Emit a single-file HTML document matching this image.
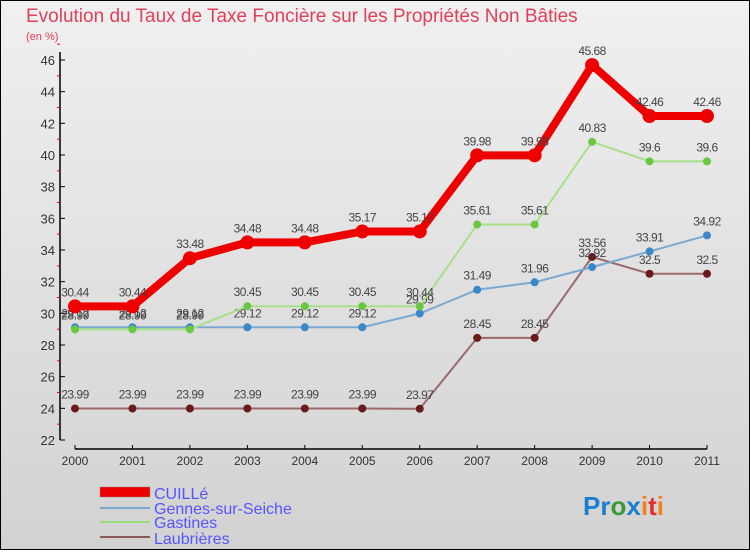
<!DOCTYPE html>
<html><head><meta charset="utf-8"><style>
html,body{margin:0;padding:0}
body{width:750px;height:550px;overflow:hidden;font-family:"Liberation Sans",sans-serif}
svg text{font-family:"Liberation Sans","DejaVu Sans",sans-serif}
</style></head><body>
<svg id="chart" width="750" height="550" viewBox="0 0 750 550" xmlns="http://www.w3.org/2000/svg">
<defs><linearGradient id="bg" x1="0" y1="0" x2="0" y2="1"><stop offset="0" stop-color="#f0f0f0"/><stop offset="1" stop-color="#d2d2d2"/></linearGradient></defs>
<rect x="0.5" y="0.5" width="749" height="549" fill="url(#bg)" stroke="#000"/>
<text x="26" y="22" font-size="19" fill="#e0405a">Evolution du Taux de Taxe Foncière sur les Propriétés Non Bâties</text>
<text x="26" y="40" font-size="11" fill="#e0405a">(en %)</text>
<g id="axes"></g>
<g id="series"></g>
<g>
<rect x="100" y="487" width="50" height="10" fill="#e00" stroke="#888" stroke-width="0.5"/>
<text x="154" y="499" font-size="16" fill="#5555ff">CUILLé</text>
<line x1="100" y1="508" x2="150" y2="508" stroke="#7aa8d0" stroke-width="2"/>
<text x="154" y="514" font-size="16" fill="#5555ff">Gennes-sur-Seiche</text>
<line x1="100" y1="522" x2="150" y2="522" stroke="#99dd77" stroke-width="2"/>
<text x="154" y="528" font-size="16" fill="#5555ff">Gastines</text>
<line x1="100" y1="537" x2="150" y2="537" stroke="#8a5a5a" stroke-width="2"/>
<text x="154" y="544" font-size="16" fill="#5555ff">Laubrières</text>
</g>
<text x="583" y="515" font-size="26" font-weight="bold"><tspan fill="#1a7fd0">Pr</tspan><tspan fill="#3a9a3a">o</tspan><tspan fill="#1a7fd0">x</tspan><tspan fill="#f08020">i</tspan><tspan fill="#e03030">t</tspan><tspan fill="#f08020">i</tspan></text>
</svg>
<script>
const years=["2000","2001","2002","2003","2004","2005","2006","2007","2008","2009","2010","2011"];
const cuille=[30.44,30.44,33.48,34.48,34.48,35.17,35.17,39.98,39.98,45.68,42.46,42.46];
const gennes=[29.12,29.12,29.12,29.12,29.12,29.12,29.99,31.49,31.96,32.92,33.91,34.92];
const gastines=[28.99,28.99,28.99,30.45,30.45,30.45,30.44,35.61,35.61,40.83,39.6,39.6];
const laubrieres=[23.99,23.99,23.99,23.99,23.99,23.99,23.97,28.45,28.45,33.56,32.5,32.5];
const yTicks=[22,24,26,28,30,32,34,36,38,40,42,44,46];
const NS="http://www.w3.org/2000/svg";
const X=i=>75+i*(707-75)/11;
const Y=v=>440-(v-22)*(380/24);
function mk(t,a,p){const e=document.createElementNS(NS,t);for(const k in a)e.setAttribute(k,a[k]);p.appendChild(e);return e;}
const ax=document.getElementById('axes');
const yl=mk('line',{x1:60,y1:52,x2:60,y2:440,stroke:'#000','stroke-width':1.5},ax);


const xl=mk('line',{x1:75,y1:449,x2:707,y2:449,stroke:'#000','stroke-width':1.5},ax);


yTicks.forEach(v=>{
 mk('line',{x1:60,y1:Y(v),x2:65,y2:Y(v),stroke:'#000'},ax);
 mk('line',{x1:57,y1:Y(v+1),x2:60,y2:Y(v+1),stroke:'#e00'},ax);
 const t=mk('text',{x:55,y:Y(v)+5,'font-size':13,fill:'#333','text-anchor':'end'},ax);
 t.textContent=v;
 
 
});
years.forEach((y,i)=>{
 mk('line',{x1:X(i),y1:445,x2:X(i),y2:449,stroke:'#000'},ax);
 const t=mk('text',{x:X(i),y:465,'font-size':12,fill:'#333','text-anchor':'middle'},ax);
 t.textContent=y;
 
 
});
const sg=document.getElementById('series');
function draw(vals,color,lw,r,name,dot){
 const g=mk('g',{},sg);
 
 
 mk('polyline',{points:vals.map((v,i)=>X(i)+','+Y(v)).join(' '),fill:'none',stroke:color,'stroke-width':lw},g);
 vals.forEach((v,i)=>{
  const c=mk('circle',{cx:X(i),cy:Y(v),r:r,fill:dot},g);
  
  
  const t=mk('text',{x:X(i),y:Y(v)-10,'font-size':12,fill:'#444','text-anchor':'middle','letter-spacing':'-0.5'},g);
  t.textContent=v;
  
  
 });
}
draw(laubrieres,'#9a6a6a',2,4,'laubrieres','#6a1a1a');
draw(gennes,'#7aa8d0',2,4,'gennes','#3a88c8');
draw(gastines,'#a8e088',2,4,'gastines','#6ac840');
draw(cuille,'#e00',8,7,'cuille','#e00');
</script>
</body></html>
